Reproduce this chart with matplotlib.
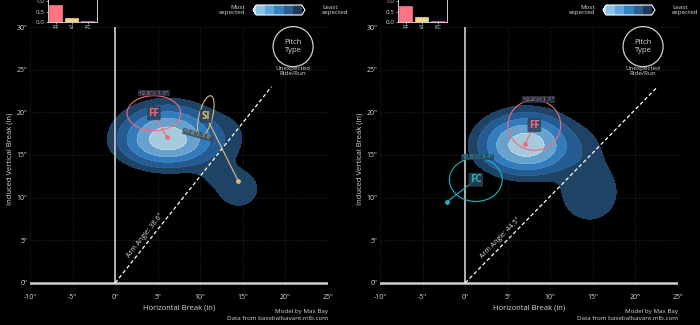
import numpy as np
import matplotlib.pyplot as plt
from matplotlib.colors import ListedColormap, BoundaryNorm
from matplotlib.patches import Ellipse, Circle
import matplotlib as mpl

plt.rcParams['font.family'] = ['Open Sans', 'DejaVu Sans']

# ---- data ----
pitch_names = ['FF', 'SI', 'FC']
pitch_colors = {'FF': '#f26b7a', 'SI': '#d8bf78', 'FC': '#1fb5bf'}
bar_colors = ['#ff7584', '#f3d58e', '#26c4d0']

# usage share (inset bars)
usage_left = [0.80, 0.18, 0.05]
usage_right = [0.76, 0.24, 0.05]

arm_angles = [38.6, 44.5]

# pitches per panel: name, HB, IVB, unexpected run, unexpected ride, ellipse w, h, angle
pitches_left = [
    ('FF', 6.05, 17.1, -1.5, 2.8, 6.3, 4.1, 0),
    ('SI', 14.45, 11.96, -3.8, 7.6, 1.6, 4.9, -14),
]
pitches_right = [
    ('FF', 7.03, 16.3, 1.1, 2.2, 6.2, 5.9, 0),
    ('FC', -2.15, 9.5, 3.4, 2.6, 6.2, 5.1, 0),
]
# where the "+ride/run" text sits relative to the label, and its rotation
note_offsets_left = [(0.0, 2.35, 0), (-0.9, -2.2, -15)]
note_offsets_right = [(0.45, 3.0, 0), (0.2, 2.7, 0)]

# density blobs for the "expected" contours
# centre x, centre y, sigma left, sigma right, sigma down, sigma up, weight
blobs_left_x = [6.2, 13.6, 14.5, 11.5]
blobs_left_y = [16.8, 17.0, 11.0, 12.8]
blobs_left_sxl = [3.0, 1.8, 1.8, 1.7]
blobs_left_sxr = [3.0, 1.6, 1.8, 1.7]
blobs_left_syd = [1.66, 2.2, 1.6, 1.3]
blobs_left_syu = [2.05, 2.2, 1.6, 1.3]
blobs_left_w = [1.0, 0.06, 0.12, 0.055]

blobs_right_x = [7.23, 14.6, 14.2]
blobs_right_y = [16.15, 10.6, 15.5]
blobs_right_sxl = [2.9, 2.5, 1.8]
blobs_right_sxr = [2.8, 2.5, 1.8]
blobs_right_syd = [1.8, 2.5, 2.2]
blobs_right_syu = [1.95, 2.5, 2.2]
blobs_right_w = [1.0, 0.13, 0.06]

levels_frac = [0.06, 0.14, 0.28, 0.48, 0.77, 1.01]
contour_colors = ['#21496f', '#2a64a0', '#3886cc', '#72b1df', '#b6dbf0']
cbar_colors = ['#8dc3e8', '#5ea6dd', '#3283c4', '#2b5f91', '#1f3b5b']

xticks = [-10, -5, 0, 5, 10, 15, 20, 25]
yticks = [0, 5, 10, 15, 20, 25, 30]

W, H = 700, 325
fig = plt.figure(figsize=(7, 3.25), dpi=100)
fig.patch.set_facecolor('black')

TXT = '#d8d8d8'


def blob_field(X, Y, mx, my, sxl, sxr, syd, syu, w):
    Z = np.zeros_like(X)
    for a, b, c1, c2, d1, d2, e in zip(mx, my, sxl, sxr, syd, syu, w):
        sx = np.where(X < a, c1, c2)
        sy = np.where(Y < b, d1, d2)
        Z += e * np.exp(-0.5 * ((X - a) / sx) ** 2 - 0.5 * ((Y - b) / sy) ** 2)
    return Z / Z.max()


def panel(x0, blobs, pitches, notes, usage, arm):
    ax = fig.add_axes([x0 / W, (H - 291.5) / H, 298 / W, 264.5 / H])
    ax.set_facecolor('black')
    ax.set_xlim(-10, 25)
    ax.set_ylim(-1, 30)
    for s in ax.spines.values():
        s.set_visible(False)
    ax.set_xticks(xticks)
    ax.set_yticks(yticks)
    ax.set_xticklabels([f'{t}"' for t in xticks])
    ax.set_yticklabels([f'{t}"' for t in yticks])
    ax.tick_params(colors=TXT, labelsize=5, length=0, pad=2)
    ax.grid(True, color='#333333', lw=0.5, ls=(0, (1, 1.5)))
    ax.set_axisbelow(True)
    ax.set_xlabel('Horizontal Break (in)', color=TXT, fontsize=5.5, labelpad=2)
    ax.set_ylabel('Induced Vertical Break (in)', color=TXT, fontsize=5.5, labelpad=2)

    gx = np.linspace(-10, 25, 400)
    gy = np.linspace(-1, 30, 400)
    X, Y = np.meshgrid(gx, gy)
    Z = blob_field(X, Y, *blobs)
    ax.contourf(X, Y, Z, levels=levels_frac, colors=contour_colors, alpha=0.92, zorder=1)

    ax.axhline(0, color='#cfcfcf', lw=1.8, zorder=2)
    ax.plot([0, 0], [0, 30], color='#cfcfcf', lw=1.2, zorder=2)

    a = np.radians(90 - arm)
    L = 23 / np.sin(a)
    ax.plot([0, L * np.cos(a)], [0, L * np.sin(a)], color='white', lw=0.9,
            ls=(0, (3, 2)), zorder=3)
    s_along, s_perp = 6.6, 0.75
    tx = s_along * np.cos(a) - s_perp * np.sin(a)
    ty = s_along * np.sin(a) + s_perp * np.cos(a)
    ax.text(tx, ty, f'Arm Angle: {arm}°', rotation=90 - arm, color=TXT, fontsize=5,
            ha='center', va='center', rotation_mode='anchor', zorder=4)

    for (name, px, py, run, ride, ew, eh, ang), (dx, dy, rot) in zip(pitches, notes):
        c = pitch_colors[name]
        lx, ly = px + run, py + ride
        ax.add_patch(Ellipse((lx, ly), ew, eh, angle=ang, fill=False, ec=c, lw=0.8, zorder=5))
        ax.plot([lx, px], [ly, py], color=c, lw=0.8, zorder=5)
        ax.scatter([px], [py], s=6, color=c, zorder=6)
        ax.text(lx, ly, name, color=c, fontsize=7, fontweight='bold', ha='center', va='center',
                zorder=7, bbox=dict(boxstyle='round,pad=0.15', fc='#2c4257', ec='none', alpha=0.85))
        ax.text(lx + dx, ly + dy, f'{ride:+.1f}"/{run:+.1f}"', color=c, fontsize=4.5,
                ha='center', va='center', rotation=rot, zorder=7,
                bbox=dict(boxstyle='square,pad=0.1', fc='#2c4257', ec='none', alpha=0.75))

    # pitch type legend circle
    ax.add_patch(Circle((20.9, 27.7), 2.35, fill=False, ec='#cfcfcf', lw=0.9, clip_on=False, zorder=5))
    ax.text(20.9, 27.7, 'Pitch\nType', color=TXT, fontsize=5.5, ha='center', va='center',
            linespacing=1.1, zorder=6)
    ax.text(20.9, 24.9, 'Unexpected\nRide/Run', color=TXT, fontsize=4.5, ha='center',
            va='center', linespacing=1.0, zorder=6)

    # credits
    fig.text((x0 + 298) / W, 1 - 312 / H, 'Model by Max Bay', color=TXT, fontsize=4.5,
             ha='right', va='center')
    fig.text((x0 + 298) / W, 1 - 319 / H, 'Data from baseballsavant.mlb.com', color=TXT,
             fontsize=4.5, ha='right', va='center')

    # usage inset
    ix = fig.add_axes([(x0 + 18) / W, (H - 22) / H, 49 / W, 22 / H])
    ix.set_facecolor('black')
    ix.bar(range(3), usage, width=0.8, color=bar_colors, edgecolor=bar_colors, lw=0.5)
    ix.set_xlim(-0.48, 2.58)
    ix.set_ylim(0, 1.05)
    ix.set_xticks(range(3))
    ix.set_xticklabels(pitch_names)
    ix.set_yticks([0, 0.5, 1.0])
    ix.set_yticklabels(['0.0', '0.5', '1.0'])
    ix.tick_params(colors=TXT, labelsize=4.5, length=1.5, pad=1, width=0.5)
    ix.spines['top'].set_visible(False)
    for s in ['left', 'right', 'bottom']:
        ix.spines[s].set_color('#cfcfcf')
        ix.spines[s].set_linewidth(0.7)

    # colour bar legend
    cx = fig.add_axes([(x0 + 223) / W, (H - 15) / H, 52 / W, 10 / H])
    cmap = ListedColormap(cbar_colors)
    cmap.set_under('#b4dbf2')
    cmap.set_over('#000000')
    norm = BoundaryNorm(range(6), cmap.N)
    cb = fig.colorbar(mpl.cm.ScalarMappable(norm=norm, cmap=cmap), cax=cx,
                      orientation='horizontal', extend='both', extendfrac=0.07)
    cb.set_ticks([])
    cb.outline.set_edgecolor('white')
    cb.outline.set_linewidth(0.8)
    fig.text((x0 + 215) / W, 1 - 10 / H, 'Most\nexpected', color=TXT, fontsize=4.5,
             ha='right', va='center', linespacing=1.0)
    fig.text((x0 + 292) / W, 1 - 10 / H, 'Least\nexpected', color=TXT, fontsize=4.5,
             ha='left', va='center', linespacing=1.0)
    return ax


panel(30, (blobs_left_x, blobs_left_y, blobs_left_sxl, blobs_left_sxr, blobs_left_syd,
           blobs_left_syu, blobs_left_w),
      pitches_left, note_offsets_left, usage_left, arm_angles[0])
panel(380, (blobs_right_x, blobs_right_y, blobs_right_sxl, blobs_right_sxr, blobs_right_syd,
            blobs_right_syu, blobs_right_w),
      pitches_right, note_offsets_right, usage_right, arm_angles[1])

fig.savefig('out.png', dpi=100, facecolor='black')
